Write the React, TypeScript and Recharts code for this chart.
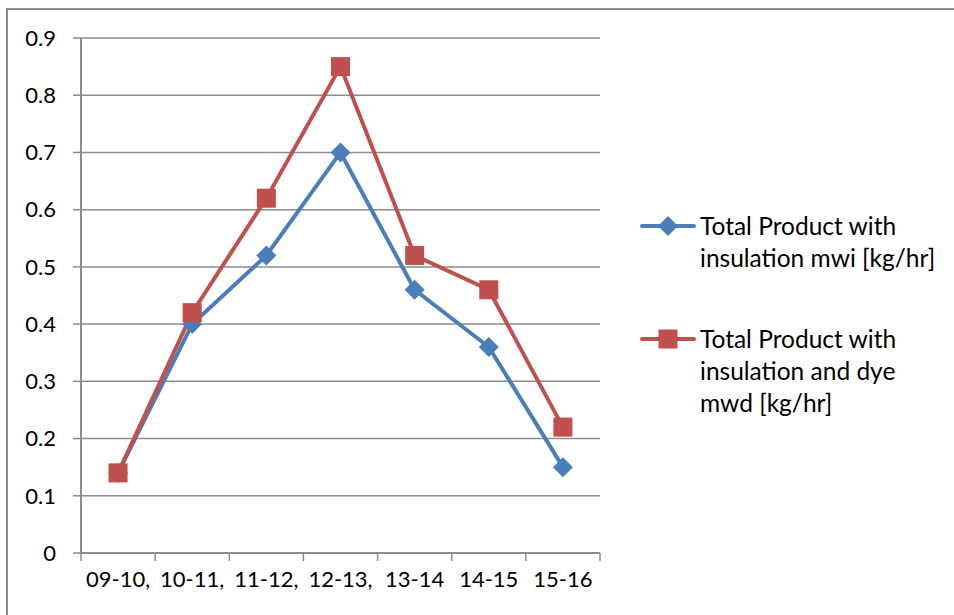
import { CartesianGrid, Legend, Line, LineChart, XAxis, YAxis } from "recharts";

const periods = ["09-10,", "10-11,", "11-12,", "12-13,", "13-14", "14-15", "15-16"];
const insulationMwi = [0.14, 0.4, 0.52, 0.7, 0.46, 0.36, 0.15];
const insulationDyeMwd = [0.14, 0.42, 0.62, 0.85, 0.52, 0.46, 0.22];
const yTicks = [0, 0.1, 0.2, 0.3, 0.4, 0.5, 0.6, 0.7, 0.8, 0.9];
const legendMwi = ["Total Product with", "insulation mwi [kg/hr]"];
const legendMwd = ["Total Product with", "insulation and dye", "mwd [kg/hr]"];

const BLUE = "#4a7ebb";
const RED = "#c0504d";
const GREY = "#8c8c8c";
const FONT = "Lato, 'Open Sans', sans-serif";
const TICK_SIZE = 8;
const TICK_MARGIN = 10;

const data = periods.map((period, i) => ({
  period,
  mwi: insulationMwi[i],
  mwd: insulationDyeMwd[i],
}));

function DiamondDot(props: any) {
  const { cx, cy, index } = props;
  if (cx == null || cy == null) return null;
  const r = 10;
  return (
    <polygon
      key={`d-${index}`}
      points={`${cx},${cy - r} ${cx + r},${cy} ${cx},${cy + r} ${cx - r},${cy}`}
      fill={BLUE}
    />
  );
}

function SquareDot(props: any) {
  const { cx, cy, index } = props;
  if (cx == null || cy == null) return null;
  const s = 19;
  return <rect key={`s-${index}`} x={cx - s / 2} y={cy - s / 2} width={s} height={s} fill={RED} />;
}

// category label plus excel-style tick marks on the band edges
function PeriodTick(props: any) {
  const { x, y, payload, index, visibleTicksCount } = props;
  const half = payload?.offset ?? 0;
  const top = y - TICK_SIZE - TICK_MARGIN;
  const isLast = index === visibleTicksCount - 1;
  return (
    <g>
      <line x1={x - half} x2={x - half} y1={top} y2={top + TICK_SIZE} stroke={GREY} strokeWidth={1.5} />
      {isLast && <line x1={x + half} x2={x + half} y1={top} y2={top + TICK_SIZE} stroke={GREY} strokeWidth={1.5} />}
      <text x={x} y={y} dy="0.71em" textAnchor="middle" fill="#000" fontSize={22} fontFamily={FONT}>
        {payload.value}
      </text>
    </g>
  );
}

function LegendIcon({ color, square }: { color: string; square: boolean }) {
  return (
    <svg width={56} height={32} style={{ flex: "none", marginRight: 4 }}>
      <line x1={2} y1={16} x2={54} y2={16} stroke={color} strokeWidth={4} strokeLinecap="round" />
      {square ? (
        <rect x={18.5} y={6.5} width={19} height={19} fill={color} />
      ) : (
        <polygon points="28,6 38,16 28,26 18,16" fill={color} />
      )}
    </svg>
  );
}

function renderLegend() {
  const items = [
    { lines: legendMwi, color: BLUE, square: false },
    { lines: legendMwd, color: RED, square: true },
  ];
  return (
    <div style={{ fontFamily: FONT, fontSize: 24.5, color: "#000" }}>
      {items.map((item, i) => (
        <div key={i} style={{ display: "flex", alignItems: "flex-start", marginTop: i === 0 ? 0 : 49 }}>
          <LegendIcon color={item.color} square={item.square} />
          <div style={{ lineHeight: "32px", whiteSpace: "nowrap" }}>
            {item.lines.map((line) => (
              <div key={line}>{line}</div>
            ))}
          </div>
        </div>
      ))}
    </div>
  );
}

export default function App() {
  return (
    <div style={{ position: "fixed", left: 0, top: 0, width: 954, height: 615, background: "#fff", overflow: "hidden" }}>
      <div
        style={{
          position: "absolute",
          left: 6,
          top: 8,
          width: 1000,
          height: 700,
          border: `2px solid ${GREY}`,
          boxSizing: "border-box",
        }}
      />
      <div style={{ position: "absolute", left: 0, top: 0 }}>
        <LineChart width={954} height={615} data={data} margin={{ top: 38, right: 354, bottom: 0, left: 0 }}>
          <CartesianGrid horizontal vertical={false} stroke={GREY} strokeWidth={1.5} />
          <XAxis
            dataKey="period"
            scale="band"
            height={62}
            interval={0}
            tickLine={false}
            tickSize={TICK_SIZE}
            tickMargin={TICK_MARGIN}
            axisLine={{ stroke: GREY, strokeWidth: 2 }}
            tick={PeriodTick}
          />
          <YAxis
            width={81}
            domain={[0, 0.9]}
            ticks={yTicks}
            interval={0}
            tickSize={8}
            tickMargin={17}
            axisLine={{ stroke: GREY, strokeWidth: 2 }}
            tickLine={{ stroke: GREY, strokeWidth: 1.5 }}
            tick={{ fill: "#000", fontSize: 22, fontFamily: FONT }}
          />
          <Legend
            layout="horizontal"
            verticalAlign="middle"
            align="center"
            content={renderLegend}
            wrapperStyle={{ left: 640, top: 210, width: 314, height: "auto" }}
          />
          <Line
            dataKey="mwi"
            name="Total Product with insulation mwi [kg/hr]"
            stroke={BLUE}
            strokeWidth={4}
            dot={DiamondDot}
            activeDot={false}
            isAnimationActive={false}
          />
          <Line
            dataKey="mwd"
            name="Total Product with insulation and dye mwd [kg/hr]"
            stroke={RED}
            strokeWidth={4}
            dot={SquareDot}
            activeDot={false}
            isAnimationActive={false}
          />
        </LineChart>
      </div>
    </div>
  );
}
